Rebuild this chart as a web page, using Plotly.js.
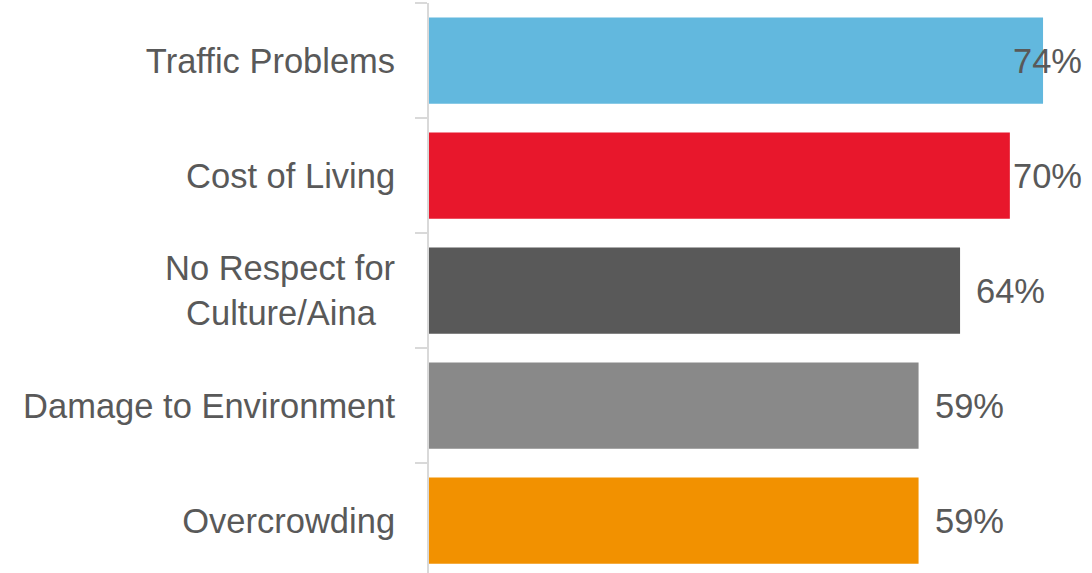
<!DOCTYPE html>
<html>
<head>
<meta charset="utf-8">
<script src="https://cdn.plot.ly/plotly-3.0.1.min.js"></script>
<style>html,body{margin:0;padding:0;background:#fff;}#chart{width:1092px;height:573px;}</style>
</head>
<body>
<div id="chart"></div>
<script>
const categories = ["Traffic Problems", "Cost of Living", "No Respect for<br>Culture/Aina\u00a0\u00a0", "Damage to Environment", "Overcrowding"];
const values = [74, 70, 64, 59, 59];
const labels = ["74%", "70%", "64%", "59%", "59%"];
const colors = ["#62B8DE", "#E8172C", "#595959", "#898989", "#F29100"];

const W = 1092, H = 573;
const mL = 429, mR = 0, mT = 3, mB = 0;
const plotW = W - mL - mR;
const xMax = 79.9;
const pxPer = plotW / xMax;
const fontFam = "Liberation Sans, Arial, sans-serif";
const fs = 34.5;
const textCol = "#595959";
const estLabelW = 2.0 * fs;

const annotations = values.map((v, i) => {
  const overflow = v * pxPer + 16 + estLabelW > plotW - 8;
  if (overflow) {
    return {x: 1, xref: "paper", y: categories[i], yref: "y", xanchor: "right", xshift: -8,
      text: labels[i], showarrow: false, font: {family: fontFam, size: fs, color: textCol}};
  }
  return {x: v, xref: "x", y: categories[i], yref: "y", xanchor: "left", xshift: 14,
    text: labels[i], showarrow: false, font: {family: fontFam, size: fs, color: textCol}};
});

const catH = 115;
const nVisible = (H - mT - mB) / catH;

Plotly.newPlot("chart", [{
  type: "bar",
  orientation: "h",
  x: values,
  y: categories,
  marker: {color: colors},
  hoverinfo: "none"
}], {
  width: W, height: H,
  margin: {l: mL, r: mR, t: mT, b: mB, pad: 0},
  paper_bgcolor: "#fff", plot_bgcolor: "#fff",
  showlegend: false,
  bargap: 0.25,
  xaxis: {range: [0, xMax], visible: false, showgrid: false, zeroline: false},
  yaxis: {
    type: "category",
    range: [-0.5 + nVisible, -0.5],
    showline: true, linecolor: "#d9d9d9", linewidth: 2,
    ticks: "outside", tickson: "boundaries", ticklen: 12, tickcolor: "#d9d9d9", tickwidth: 2,
    showgrid: false, zeroline: false,
    ticklabelstandoff: 25,
    tickfont: {family: fontFam, size: fs, color: textCol}
  },
  annotations: annotations
}, {staticPlot: true});
</script>
</body>
</html>
